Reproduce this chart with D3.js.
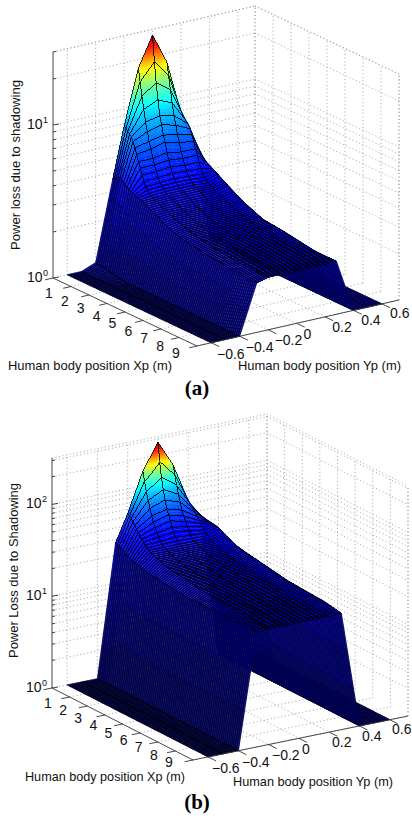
<!DOCTYPE html>
<html><head><meta charset="utf-8">
<style>html,body{margin:0;padding:0;background:#fff}svg{display:block}</style>
<script src="https://cdn.jsdelivr.net/npm/d3@7/dist/d3.min.js"></script>
</head><body><svg id="c" width="412" height="816"></svg>
<script>
// mesh coordinates
const xRows=[1,1.1,1.2,1.3,1.4,1.5,1.6,1.7,1.8,1.9,2,2.1,2.2,2.3,2.4,2.5,2.6,2.7,2.8,2.9,3,3.1,3.2,3.3,3.4,3.5,3.6,3.7,3.8,3.9,4,4.1,4.2,4.3,4.4,4.5,4.6,4.7,4.8,4.9,5,5.1,5.2,5.3,5.4,5.5,5.6,5.7,5.8,5.9,6,6.1,6.2,6.3,6.4,6.5,6.6,6.7,6.8,6.9,7,7.1,7.2,7.3,7.4,7.5,7.6,7.7,7.8,7.9,8,8.1,8.2,8.3,8.4,8.5,8.6,8.7,8.8,8.9,9];
const yCols=[-0.6,-0.5,-0.4,-0.28,-0.2,-0.1,0,0.1,0.2,0.28,0.4,0.5,0.6];
const floorLevel=1;
// panel (a) roof heights along X at each Yp
const aTail=[3.0,2.95,2.91,2.87,2.83,2.8,2.77,2.74,2.71,2.68,2.65,2.62,2.59,2.57,2.55,2.53,2.51,2.49,2.47,2.46,2.44,2.43,2.41,2.4,2.39,2.38,2.37,2.36,2.35,2.34,2.33,2.32,2.31,2.3,2.3,2.29,2.29,2.28,2.28,2.27,2.27,2.26,2.26,2.25,2.25,2.24,2.24,2.23,2.23,2.22,2.22,2.21,2.21,2.21,2.2,2.2,2.2,2.2,2.2,2.2];
const aY00=[27.5,18.6,13.8,10.8,8.6,7.6,6.6,6.0,5.2,4.7,4.3,3.95,3.7,3.55,3.4,3.32,3.25,3.2,3.15,3.1,3.05,...aTail];
const aY10=[17.5,14.5,11.8,9.8,8.2,7.2,6.3,5.7,5.0,4.6,4.2,3.9,3.65,3.52,3.4,3.32,3.25,3.2,3.15,3.1,3.05,...aTail];
const aY20=[7.7,7.5,7.3,7.1,6.9,6.5,6.0,5.5,5.0,4.6,4.2,3.85,3.6,3.47,3.35,3.27,3.2,3.16,3.12,3.08,3.05,...aTail];
const aYp28=[4.7,4.6,4.5,4.4,4.3,4.2,4.1,4.0,3.9,3.85,3.8,3.72,3.65,3.6,3.55,3.48,3.42,3.36,3.3,3.25,3.2,3.15,3.1,3.05,3.0,2.96,2.92,2.87,2.83,2.79,2.75,2.72,2.69,2.66,2.63,2.6,2.57,2.54,2.52,2.49,2.47,2.465,2.46,2.45,2.44,2.435,2.43,2.42,2.41,2.405,2.4,2.39,2.38,2.37,2.36,2.35,2.34,2.33,2.32,2.31,2.3,2.29,2.28,2.27,2.26,2.25,2.24,2.23,2.23,2.22,2.22,2.22,2.22,2.22,2.22,2.22,2.22,2.22,2.22,2.22,2.22];
const aYn28=[3.6,3.7,3.8,3.85,3.9,3.85,3.7,3.6,3.55,3.45,3.4,3.35,3.3,3.28,3.25,3.21,3.18,3.14,3.1,3.06,3.02,2.97,2.93,2.89,2.85,2.8,2.76,2.71,2.67,2.63,2.6,2.57,2.54,2.51,2.49,2.47,2.45,2.43,2.42,2.4,2.39,2.37,2.36,2.34,2.33,2.32,2.31,2.3,2.29,2.28,2.27,2.26,2.25,2.24,2.24,2.23,2.22,2.21,2.21,2.2,2.2,2.19,2.18,2.17,2.17,2.16,2.16,2.15,2.15,2.14,2.14,2.13,2.13,2.12,2.12,2.11,2.11,2.1,2.1,2.1,2.1];
const aY40Head=[1.09,1.08,1.08,1.07,1.07,1.06,1.06,1.05,1.05,1.04,1.04,1.03,1.03,1.02,1.02,1.01,1.01];
// panel (b) roof heights along X at each Yp
const bTail=[23.7,23.5,23.2,23,22.8,22.6,22.4,22.3,22.1,22,21.8,21.7,21.5,21.4,21.2,21.1,20.9,20.8,20.6,20.5,20.4,20.3,20.2,20.1,20,19.9,19.8,19.7,19.6,19.6,19.5,19.5,19.4,19.4,19.3,19.2,19.2,19.1,19,19,18.9,18.9,18.8,18.8,18.7,18.7,18.6,18.6,18.6,18.6,18.5,18.5,18.4,18.4,18.3,18.3,18.2,18.2,18.2,18.2];
const bY00=[275,174,119,90,71,58,51,45,39,35.5,32,29.8,28,27.2,26.5,26,25.5,25.1,24.7,24.3,24,...bTail];
const bY10=[144,115,90,74,62,52,46,41,37,34,31,29.4,28,27.2,26.5,26,25.5,25.1,24.7,24.3,24,...bTail];
const bY20=[54,52,50,47,44,41,38,36,34,32,30.5,29.2,28,27.3,26.6,26.1,25.6,25.2,24.8,24.4,24.1,...bTail];
const bYp28=[35,35,34.8,34.6,34.4,34.2,34,33.8,33.6,33.3,33,32.2,31.5,30.7,30,29.4,28.8,28.2,27.6,27,26.5,26.2,26,25.7,25.5,25.2,25,24.8,24.7,24.5,24.3,24.1,24,23.8,23.6,23.4,23.3,23.1,23,22.8,22.6,22.4,22.3,22.1,22,21.8,21.6,21.4,21.3,21.1,21,21,20.9,20.9,20.8,20.8,20.7,20.6,20.6,20.5,20.5,20.4,20.4,20.3,20.3,20.2,20.2,20.1,20.1,20,20,19.8,19.7,19.5,19.4,19.2,19.1,18.9,18.8,18.6,18.4];
const bYn28=[27.5,27,26.3,25.6,24.8,24,23.5,23,22.4,22,21.5,21.2,21,20.8,20.5,20.2,20,19.9,19.7,19.5,19.3,19.2,19.1,19,18.9,18.8,18.7,18.6,18.6,18.5,18.4,18.3,18.2,18.1,18,17.9,17.9,17.8,17.7,17.6,17.6,17.5,17.5,17.5,17.5,17.5,17.5,17.5,17.5,17.5,17.6,17.6,17.6,17.6,17.6,17.7,17.7,17.7,17.7,17.7,17.7,17.8,17.8,17.8,17.8,17.8,17.9,17.9,17.9,17.9,17.9,17.9,18,18,18,18,18,18,18,18,18];
// axis ticks and text
const xTicks=[1,2,3,4,5,6,7,8,9];
const yTicks=[-0.6,-0.4,-0.2,0,0.2,0.4,0.6];
const aDecades=[1,10], bDecades=[1,10,100];
const aMinor=[2,3,4,5,6,7,8,9,10,20,30], bMinor=[2,3,4,5,6,7,8,9,10,20,30,40,50,60,70,80,90,100,200,300];
const xTitle="Human body position Xp (m)", yTitle="Human body position Yp (m)";

const svg=d3.select("#c");
const jet=t=>{const c=v=>Math.round(255*Math.max(0,Math.min(1,v)));
  return `rgb(${c(Math.min(4*t-1.5,-4*t+4.5))},${c(Math.min(4*t-.5,-4*t+3.5))},${c(Math.min(4*t+.5,-4*t+2.5))})`;};

function panel(o){
  const g=svg.append("g");
  const [Lx,Ly]=o.L,[Fx,Fy]=o.F,[Bx,By]=o.B;
  const xDom=[1,9], yDom=[-0.7,0.72];
  const xToX=d3.scaleLinear(xDom,[0,Fx-Lx]), xToY=d3.scaleLinear(xDom,[0,Fy-Ly]);
  const yToX=d3.scaleLinear(yDom,[0,Bx-Lx]), yToY=d3.scaleLinear(yDom,[0,By-Ly]);
  const zS=d3.scaleLog([1,o.zTop],[0,-o.zH]);
  const P=(x,y,z)=>[Lx+xToX(x)+yToX(y), Ly+xToY(x)+yToY(y)+zS(z)];
  const line=d3.line();
  const grid=(a,b)=>g.append("path").attr("d",line([a,b])).attr("fill","none").attr("stroke","#8a8a8a").attr("stroke-width",0.8).attr("stroke-dasharray","1 2.6");
  const [x0,x1]=xDom,[y0,y1]=yDom,zT=o.zTop;
  o.minor.forEach(z=>{grid(P(x0,y0,z),P(x0,y1,z));grid(P(x0,y1,z),P(x1,y1,z));});
  yTicks.forEach(y=>{grid(P(x0,y,1),P(x0,y,zT));grid(P(x0,y,1),P(x1,y,1));});
  xTicks.forEach(x=>{grid(P(x,y1,1),P(x,y1,zT));grid(P(x,y0,1),P(x,y1,1));});
  [[P(x0,y0,zT),P(x0,y1,zT)],[P(x0,y1,zT),P(x1,y1,zT)],[P(x0,y1,1),P(x0,y1,zT)],[P(x1,y1,1),P(x1,y1,zT)]].forEach(s=>grid(s[0],s[1]));
  // surface, back to front; the front wall and front floor edges go on top afterwards
  const col={"-0.28":o.cols[0],"-0.2":o.cols[3],"-0.1":o.cols[2],"0":o.cols[1],"0.1":o.cols[2],"0.2":o.cols[3],"0.28":o.cols[4]};
  const Z=(i,j)=>{const y=yCols[j];
    if(Math.abs(y)===0.4&&o.rim&&i<o.rim.length)return o.rim[i];
    const c=col[String(y)];return c?c[i]:floorLevel;};
  const zMax=d3.max(o.cols.flat());
  const T=z=>z/zMax;
  const deferred=[];
  for(let i=0;i<xRows.length-1;i++){
    for(let j=yCols.length-2;j>=0;j--){
      const xa=xRows[i],xb=xRows[i+1],ya=yCols[j],yb=yCols[j+1];
      const z00=Z(i,j),z01=Z(i,j+1),z10=Z(i+1,j),z11=Z(i+1,j+1);
      const ts=[T(z00),T(z01),T(z10),T(z11)];
      const span=d3.max(ts)-d3.min(ts);
      const n=Math.min(10,Math.ceil(span*24)+1);
      const pt=(u,v)=>{
        const lz=(1-u)*(1-v)*Math.log10(z00)+(1-u)*v*Math.log10(z01)+u*(1-v)*Math.log10(z10)+u*v*Math.log10(z11);
        return P(xa+(xb-xa)*u,ya+(yb-ya)*v,Math.pow(10,lz));};
      for(let a=0;a<n;a++)for(let b=0;b<n;b++){
        const u=(a+.5)/n,v=(b+.5)/n;
        const t=(1-u)*(1-v)*ts[0]+(1-u)*v*ts[1]+u*(1-v)*ts[2]+u*v*ts[3];
        const c=jet(t);
        g.append("path").attr("d",line([pt(a/n,b/n),pt(a/n,(b+1)/n),pt((a+1)/n,(b+1)/n),pt((a+1)/n,b/n)])+"Z")
         .attr("fill",c).attr("stroke",c).attr("stroke-width",0.35);
      }
      const quad=line([P(xa,ya,z00),P(xa,yb,z01),P(xb,yb,z11),P(xb,ya,z10)])+"Z";
      if(j<=2) deferred.push(quad);
      else{
        const roof=j>=3&&j<=8;
        g.append("path").attr("d",quad).attr("fill","none").attr("stroke","#000")
         .attr("stroke-width",roof?o.edge:o.backEdge)
         .attr("shape-rendering",roof?"crispEdges":"geometricPrecision");
      }
    }
  }
  g.append("path").attr("d",deferred.join("")).attr("fill","none").attr("stroke","#000").attr("stroke-width",o.wallEdge);
  // axes
  const ax=(a,b,w,c)=>g.append("path").attr("d",line([a,b])).attr("fill","none").attr("stroke",c||"#333").attr("stroke-width",w||0.9);
  ax(P(x0,y0,1),P(x0,y0,zT),o.zAxisW,o.zAxisC);
  ax(P(x0,y0,1),P(x1,y0,1));
  ax(P(x1,y0,1),P(x1,y1,1));
  const yTickLen=0.055,xTickLen=0.45;
  xTicks.forEach(x=>ax(P(x,y0,1),P(x,y0-yTickLen,1)));
  yTicks.forEach(y=>ax(P(x1,y,1),P(x1+xTickLen,y,1)));
  o.minor.concat([1]).forEach(z=>{const p=P(x0,y0,z);ax(p,[p[0]+(o.decades.includes(z)?6:3),p[1]-(o.decades.includes(z)?1:0.5)]);});
  // tick labels
  const txt=(x,y,s,size,anchor)=>g.append("text").attr("x",x).attr("y",y).attr("font-family","'Liberation Sans',Arial,sans-serif").attr("font-size",size).attr("text-anchor",anchor||"start").attr("fill","#111").text(s);
  const lxX=d3.scaleLinear([1,9],o.xLabX),lxY=d3.scaleLinear([1,9],o.xLabY);
  xTicks.forEach(x=>txt(lxX(x),lxY(x),x,o.tickSize,"middle"));
  const lyX=d3.scaleLinear([-0.6,0.6],o.yLabX),lyY=d3.scaleLinear([-0.6,0.6],o.yLabY);
  yTicks.forEach(y=>txt(lyX(y),lyY(y),d3.format(".1f")(y).replace(".0",""),o.tickSize,"start"));
  o.decades.forEach(z=>{const p=P(x0,y0,z);
    txt(p[0]-26,p[1]+4,"10",o.tickSize);
    txt(p[0]-10,p[1]-2,Math.round(Math.log10(z)),9);});
  // titles
  txt(o.xTitle[0],o.xTitle[1],xTitle,o.titleSize).attr("textLength",o.xTitle[2]).attr("lengthAdjust","spacingAndGlyphs");
  txt(o.yTitle[0],o.yTitle[1],yTitle,o.titleSize).attr("textLength",o.yTitle[2]).attr("lengthAdjust","spacingAndGlyphs");
  txt(0,0,o.zTitle[0],o.titleSize).attr("transform",`translate(${o.zTitle[1]},${o.zTitle[2]}) rotate(-90)`).attr("textLength",o.zTitle[3]).attr("lengthAdjust","spacingAndGlyphs");
  g.append("text").attr("x",o.cap[1]).attr("y",o.cap[2]).attr("text-anchor","middle").attr("font-family","'Liberation Serif',serif").attr("font-weight","bold").attr("font-size",21).attr("fill","#000").text(o.cap[0]);
}

panel({L:[53,278],F:[197,346],B:[255,232],zTop:30,zH:226,decades:aDecades,minor:aMinor,rim:aY40Head,
  cols:[aYn28,aY00,aY10,aY20,aYp28],edge:0.8,wallEdge:0.55,backEdge:0.55,zAxisW:2,zAxisC:"#a4a4a4",
  xLabX:[49,176],xLabY:[298,358],yLabX:[217,390],yLabY:[359,318],tickSize:14,titleSize:13,
  xTitle:[8,370,164],yTitle:[238,370,163],zTitle:["Power loss due to shadowing",20,250,170],cap:["(a)",197,395]});
panel({L:[52,688],F:[193,760],B:[267,644],zTop:320,zH:230,decades:bDecades,minor:bMinor,
  cols:[bYn28,bY00,bY10,bY20,bYp28],edge:0.8,wallEdge:0.55,backEdge:0.55,zAxisW:1,zAxisC:"#444",
  xLabX:[48,169],xLabY:[708,767],yLabX:[212,392],yLabY:[773,734],tickSize:14,titleSize:13,
  xTitle:[25,781,160],yTitle:[233,786,160],zTitle:["Power Loss due to Shadowing",18,658,175],cap:["(b)",197,809]});
</script></body></html>
